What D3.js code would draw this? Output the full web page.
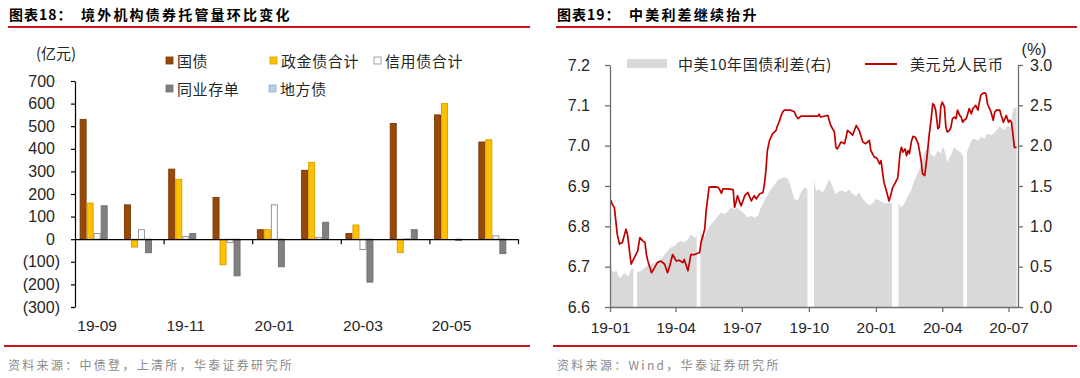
<!DOCTYPE html>
<html lang="zh">
<head>
<meta charset="UTF-8">
<title>图表18-19</title>
<script src="https://d3js.org/d3.v7.min.js"></script>
<style>
  body { margin: 0; background: #fff; }
  text { font-family: "Liberation Sans", Arial, "Noto Sans CJK SC", sans-serif; }
  .cjk { font-family: "Noto Sans CJK SC", sans-serif; }
</style>
</head>
<body>
<script>
// ---- 图表18 data (亿元) ----
var months = ["19-09", "19-10", "19-11", "19-12", "20-01", "20-02", "20-03", "20-04", "20-05", "20-06"];
var seriesNames = ["国债", "政金债合计", "信用债合计", "同业存单", "地方债"];
var govBond = [530, 152, 310, 185, 42, 305, 25, 512, 550, 430];
var policyBond = [160, -35, 265, -113, 42, 340, 63, -59, 600, 440];
var creditBond = [25, 42, 12, -15, 152, 8, -46, 2, 0, 15];
var ncd = [148, -60, 25, -162, -122, 75, -190, 42, -5, -64];
var localBond = [0, 0, 0, 0, 0, 0, 0, 0, 0, 0];
var leftTicks = [-300, -200, -100, 0, 100, 200, 300, 400, 500, 600, 700];

// ---- 图表19 data ----
var fxDates = ["2019-01-02", "2019-01-04", "2019-01-07", "2019-01-11", "2019-01-14", "2019-01-18", "2019-01-21", "2019-01-23", "2019-01-25", "2019-01-30",
  "2019-02-01", "2019-02-08", "2019-02-11", "2019-02-15", "2019-02-18", "2019-02-20", "2019-02-22", "2019-02-27", "2019-03-03", "2019-03-07",
  "2019-03-12", "2019-03-17", "2019-03-21", "2019-03-24", "2019-03-28", "2019-04-02", "2019-04-06", "2019-04-11", "2019-04-13", "2019-04-18",
  "2019-04-22", "2019-04-27", "2019-05-04", "2019-05-06", "2019-05-11", "2019-05-13", "2019-05-17", "2019-05-24", "2019-05-29", "2019-05-31",
  "2019-06-03", "2019-06-05", "2019-06-12", "2019-06-19", "2019-06-21", "2019-06-23", "2019-06-25", "2019-06-28", "2019-06-30", "2019-07-05",
  "2019-07-09", "2019-07-14", "2019-07-18", "2019-07-21", "2019-07-25", "2019-07-30", "2019-08-01", "2019-08-03", "2019-08-05", "2019-08-08",
  "2019-08-12", "2019-08-17", "2019-08-19", "2019-08-21", "2019-08-24", "2019-08-26", "2019-08-28", "2019-09-06", "2019-09-11", "2019-09-13",
  "2019-09-16", "2019-09-20", "2019-09-29", "2019-10-13", "2019-10-15", "2019-10-17", "2019-10-22", "2019-10-27", "2019-10-31", "2019-11-05",
  "2019-11-07", "2019-11-09", "2019-11-14", "2019-11-19", "2019-11-21", "2019-11-23", "2019-11-28", "2019-11-30", "2019-12-05", "2019-12-09",
  "2019-12-14", "2019-12-18", "2019-12-23", "2019-12-25", "2019-12-30", "2020-01-01", "2020-01-03", "2020-01-06", "2020-01-08", "2020-01-12",
  "2020-01-16", "2020-01-19", "2020-01-21", "2020-01-24", "2020-01-31", "2020-02-03", "2020-02-05", "2020-02-07", "2020-02-10", "2020-02-12",
  "2020-02-14", "2020-02-16", "2020-02-19", "2020-02-21", "2020-02-24", "2020-02-28", "2020-03-03", "2020-03-05", "2020-03-08", "2020-03-11",
  "2020-03-14", "2020-03-16", "2020-03-19", "2020-03-21", "2020-03-23", "2020-03-26", "2020-03-28", "2020-03-30", "2020-04-01", "2020-04-04",
  "2020-04-06", "2020-04-08", "2020-04-11", "2020-04-13", "2020-04-15", "2020-04-18", "2020-04-20", "2020-04-22", "2020-04-25", "2020-04-27",
  "2020-04-29", "2020-05-01", "2020-05-04", "2020-05-06", "2020-05-08", "2020-05-11", "2020-05-13", "2020-05-15", "2020-05-17", "2020-05-20",
  "2020-05-22", "2020-05-24", "2020-05-26", "2020-05-29", "2020-05-31", "2020-06-02", "2020-06-07", "2020-06-10", "2020-06-12", "2020-06-14",
  "2020-06-19", "2020-06-21", "2020-06-24", "2020-06-26", "2020-06-28", "2020-07-01", "2020-07-03", "2020-07-05", "2020-07-07", "2020-07-09",
  "2020-07-12"];
var usdCny = [6.865, 6.855, 6.847, 6.780, 6.756, 6.760, 6.780, 6.793, 6.780, 6.706,
  6.714, 6.739, 6.772, 6.764, 6.760, 6.730, 6.714, 6.685, 6.697, 6.710,
  6.714, 6.706, 6.685, 6.702, 6.730, 6.714, 6.716, 6.710, 6.718, 6.690,
  6.730, 6.730, 6.735, 6.760, 6.793, 6.839, 6.897, 6.898, 6.897, 6.893,
  6.882, 6.893, 6.893, 6.891, 6.847, 6.860, 6.876, 6.860, 6.851, 6.876,
  6.884, 6.863, 6.876, 6.868, 6.880, 6.884, 6.905, 6.938, 6.988, 7.013,
  7.029, 7.038, 7.050, 7.058, 7.075, 7.083, 7.088, 7.088, 7.084, 7.075,
  7.067, 7.073, 7.073, 7.073, 7.078, 7.071, 7.073, 7.075, 7.050, 7.034,
  6.996, 6.992, 7.009, 7.005, 7.021, 7.038, 7.030, 7.026, 7.050, 7.038,
  7.009, 7.005, 7.013, 6.988, 6.971, 6.971, 6.967, 6.955, 6.963, 6.909,
  6.884, 6.863, 6.875, 6.896, 6.920, 6.980, 6.996, 6.984, 6.992, 6.975,
  6.988, 6.980, 7.013, 7.023, 7.021, 7.005, 6.963, 6.930, 6.926, 6.971,
  7.025, 7.054, 7.104, 7.100, 7.088, 7.042, 7.046, 7.096, 7.108, 7.096,
  7.046, 7.034, 7.038, 7.046, 7.067, 7.071, 7.067, 7.088, 7.075, 7.071,
  7.058, 7.063, 7.067, 7.079, 7.092, 7.079, 7.092, 7.096, 7.100, 7.088,
  7.108, 7.125, 7.129, 7.131, 7.129, 7.104, 7.083, 7.063, 7.083, 7.088,
  7.088, 7.075, 7.058, 7.067, 7.075, 7.058, 7.063, 7.058, 7.030, 6.996,
  6.996];

// 中美10年国债利差 (%), null = 假期无数据
var spreadDates = ["2019-01-02", "2019-01-03", "2019-01-05", "2019-01-10", "2019-01-14", "2019-01-19", "2019-01-21", "2019-01-26", "2019-01-30", "2019-02-02",
  "2019-02-04", "2019-02-07", "2019-02-13", "2019-02-18", "2019-02-22", "2019-02-27", "2019-03-03", "2019-03-08", "2019-03-12", "2019-03-17",
  "2019-03-21", "2019-03-26", "2019-03-31", "2019-04-04", "2019-04-09", "2019-04-13", "2019-04-18", "2019-04-22", "2019-04-27", "2019-04-30",
  "2019-05-02", "2019-05-05", "2019-05-11", "2019-05-15", "2019-05-20", "2019-05-24", "2019-05-29", "2019-06-03", "2019-06-07", "2019-06-12",
  "2019-06-16", "2019-06-21", "2019-06-25", "2019-06-30", "2019-07-05", "2019-07-09", "2019-07-14", "2019-07-18", "2019-07-23", "2019-07-27",
  "2019-08-01", "2019-08-06", "2019-08-10", "2019-08-15", "2019-08-19", "2019-08-24", "2019-08-28", "2019-09-02", "2019-09-04", "2019-09-07",
  "2019-09-11", "2019-09-16", "2019-09-20", "2019-09-25", "2019-09-29", "2019-10-03", "2019-10-08", "2019-10-11", "2019-10-15", "2019-10-20",
  "2019-10-24", "2019-10-29", "2019-11-03", "2019-11-07", "2019-11-12", "2019-11-16", "2019-11-21", "2019-11-25", "2019-11-30", "2019-12-05",
  "2019-12-09", "2019-12-14", "2019-12-18", "2019-12-23", "2019-12-27", "2020-01-01", "2020-01-06", "2020-01-10", "2020-01-15", "2020-01-19",
  "2020-01-23", "2020-01-27", "2020-02-01", "2020-02-04", "2020-02-09", "2020-02-13", "2020-02-18", "2020-02-22", "2020-02-27", "2020-03-03",
  "2020-03-07", "2020-03-12", "2020-03-14", "2020-03-16", "2020-03-21", "2020-03-26", "2020-03-30", "2020-04-01", "2020-04-03", "2020-04-08",
  "2020-04-13", "2020-04-17", "2020-04-22", "2020-04-26", "2020-04-30", "2020-05-02", "2020-05-05", "2020-05-11", "2020-05-15", "2020-05-20",
  "2020-05-24", "2020-05-29", "2020-06-02", "2020-06-07", "2020-06-11", "2020-06-16", "2020-06-20", "2020-06-25", "2020-06-30", "2020-07-04",
  "2020-07-06", "2020-07-08", "2020-07-12"];
var spread = [0.59, 0.47, 0.43, 0.45, 0.36, 0.40, 0.42, 0.38, 0.47, 0.47,
  null, 0.43, 0.45, 0.49, 0.51, 0.53, 0.55, 0.57, 0.59, 0.65,
  0.70, 0.74, 0.76, 0.80, 0.82, 0.80, 0.84, 0.90, 0.86, 0.88,
  null, 0.92, 0.88, 0.96, 1.03, 1.07, 1.13, 1.17, 1.15, 1.19,
  1.23, 1.21, 1.23, 1.19, 1.15, 1.11, 1.13, 1.11, 1.13, 1.23,
  1.32, 1.40, 1.46, 1.52, 1.57, 1.59, 1.61, 1.59, 1.55, 1.46,
  1.34, 1.32, 1.42, 1.48, 1.46, null, 1.57, 1.44, 1.46, 1.42,
  1.48, 1.59, 1.48, 1.40, 1.44, 1.44, 1.42, 1.46, 1.40, 1.38,
  1.42, 1.34, 1.30, 1.26, 1.28, 1.34, 1.32, 1.30, 1.28, 1.30,
  1.28, null, 1.30, 1.23, 1.28, 1.36, 1.44, 1.55, 1.65, 1.77,
  1.90, 1.98, 2.00, 1.90, 1.86, 1.94, 1.90, 1.96, 1.98, 1.79,
  1.88, 1.98, 1.94, 1.92, 1.86, null, 1.92, 2.06, 2.09, 2.06,
  2.11, 2.09, 2.15, 2.13, 2.15, 2.21, 2.23, 2.19, 2.25, 2.23,
  2.40, 2.46, 2.48];
var rightTickDates = ["2019-01-01", "2019-04-01", "2019-07-01", "2019-10-01", "2020-01-01", "2020-04-01", "2020-07-01"];

var width = 1080, height = 378;
var svg = d3.select("body").append("svg")
  .attr("width", width)
  .attr("height", height)
  .style("background", "#fff");

var red = "#c8161d";

// ---------- headers / footers ----------
function header(x0, x1, prefix, title) {
  svg.append("text").attr("class", "cjk").attr("x", x0 + 1).attr("y", 20)
    .style("font-size", "14px").style("font-weight", "bold").style("letter-spacing", "1px")
    .text(prefix);
  svg.append("text").attr("class", "cjk").attr("x", x0 + 73).attr("y", 20)
    .style("font-size", "14px").style("font-weight", "bold").style("letter-spacing", "2.2px")
    .text(title);
  svg.append("line").attr("x1", x0).attr("x2", x1).attr("y1", 27).attr("y2", 27)
    .attr("stroke", red).attr("stroke-width", 2);
}
function footer(x0, x1, src) {
  svg.append("line").attr("x1", x0).attr("x2", x1).attr("y1", 346).attr("y2", 346)
    .attr("stroke", red).attr("stroke-width", 2);
  svg.append("text").attr("class", "cjk").attr("x", x0 + 4).attr("y", 370)
    .style("font-size", "12px").style("fill", "#8a8a8a").style("letter-spacing", "2.3px")
    .text(src);
}
header(8, 530, "图表18：", "境外机构债券托管量环比变化");
header(556, 1077, "图表19：", "中美利差继续抬升");
footer(4, 530, "资料来源：中债登，上清所，华泰证券研究所");
footer(553, 1077, "资料来源：Wind，华泰证券研究所");

// ---------- 图表18 ----------
var L = { left: 75, right: 518, top: 81, bottom: 307 };
var yB = d3.scaleLinear().domain([-300, 700]).range([L.bottom, L.top]);
var x0 = d3.scaleBand().domain(months).range([L.left, L.right]).padding(0);
var x1 = d3.scaleBand().domain(seriesNames).range([0, x0.bandwidth()]).paddingInner(0).paddingOuter(0.66);
var barData = [govBond, policyBond, creditBond, ncd, localBond];
var barFill = ["#984807", "#ffc000", "#ffffff", "#808080", "#b9cde5"];
var barStroke = ["#7a3905", "#d69e00", "#8c8c8c", "#6f6f6f", "#8eaadb"];

var g1 = svg.append("g");
seriesNames.forEach(function (name, si) {
  g1.selectAll("rect.s" + si)
    .data(barData[si])
    .enter()
    .append("rect")
    .attr("class", "s" + si)
    .attr("x", function (d, i) { return x0(months[i]) + x1(name) + 0.5; })
    .attr("y", function (d) { return Math.min(yB(d), yB(0)); })
    .attr("width", x1.bandwidth() - 1)
    .attr("height", function (d) { return Math.abs(yB(d) - yB(0)); })
    .attr("fill", barFill[si])
    .attr("stroke", barStroke[si])
    .attr("stroke-width", function (d) { return d === 0 ? 0 : 0.9; });
});

// y axis
var yAxisL = svg.append("g").attr("transform", "translate(" + L.left + ",0)")
  .call(d3.axisLeft(yB).tickValues(leftTicks).tickSize(4).tickSizeOuter(0).tickPadding(11)
    .tickFormat(function (d) { return d < 0 ? "(" + Math.abs(d) + ")" : d; }));
yAxisL.select(".domain").attr("stroke", "#000").attr("stroke-width", 1.2);
yAxisL.selectAll(".tick line").attr("stroke", "#000").attr("stroke-width", 1.2);
yAxisL.selectAll("text").style("font-size", "16px").style("fill", "#262626")
  .attr("dx", function (d) { return d < 0 ? 0 : -5; });

// category axis on zero line, tick every two months
var xIdx = d3.scaleLinear().domain([0, months.length]).range([L.left, L.right]);
var xAxisL = svg.append("g").attr("transform", "translate(0," + yB(0) + ")")
  .call(d3.axisBottom(xIdx).tickValues([2, 4, 6, 8, 10]).tickSize(5).tickSizeOuter(0).tickFormat(""));
xAxisL.select(".domain").attr("stroke", "#000").attr("stroke-width", 1.2);
xAxisL.selectAll(".tick line").attr("stroke", "#000").attr("stroke-width", 1.2);

svg.append("g").selectAll("text")
  .data(months.filter(function (m, i) { return i % 2 === 0; }))
  .enter()
  .append("text")
  .attr("x", function (d) { return x0(d) + x0.bandwidth() / 2; })
  .attr("y", 331)
  .attr("text-anchor", "middle")
  .style("font-size", "15.5px").style("fill", "#262626")
  .text(function (d) { return d; });

svg.append("text").attr("class", "cjk").attr("x", 36).attr("y", 59)
  .style("font-size", "15px").style("fill", "#262626").text("(亿元)");

// legend
var legendPos = [[166, 61], [270, 61], [374, 61], [166, 89], [269, 89]];
seriesNames.forEach(function (name, si) {
  var p = legendPos[si];
  svg.append("rect").attr("x", p[0]).attr("y", p[1] - 4).attr("width", 7).attr("height", 7)
    .attr("fill", barFill[si]).attr("stroke", barStroke[si]).attr("stroke-width", 0.8);
  svg.append("text").attr("class", "cjk").attr("x", p[0] + 11).attr("y", p[1] + 5.5)
    .style("font-size", "15px").style("fill", "#262626").style("letter-spacing", "0.6px")
    .text(name);
});

// ---------- 图表19 ----------
var R = { left: 610, right: 1018, top: 65, bottom: 307 };
var parse = d3.timeParse("%Y-%m-%d");
var xT = d3.scaleTime().domain([parse("2019-01-01"), parse("2020-07-14")]).range([R.left, R.right]);
var yFx = d3.scaleLinear().domain([6.6, 7.2]).range([R.bottom, R.top]);
var ySp = d3.scaleLinear().domain([0, 3]).range([R.bottom, R.top]);

var spreadData = spreadDates.map(function (d, i) { return { date: parse(d), v: spread[i] }; });
var fxData = fxDates.map(function (d, i) { return { date: parse(d), v: usdCny[i] }; });

svg.append("path")
  .datum(spreadData)
  .attr("fill", "#d9d9d9")
  .attr("d", d3.area()
    .defined(function (d) { return d.v !== null; })
    .x(function (d) { return xT(d.date); })
    .y0(ySp(0))
    .y1(function (d) { return ySp(d.v); }));

svg.append("path")
  .datum(fxData)
  .attr("fill", "none")
  .attr("stroke", "#c00000")
  .attr("stroke-width", 1.7)
  .attr("stroke-linejoin", "round")
  .attr("d", d3.line()
    .x(function (d) { return xT(d.date); })
    .y(function (d) { return yFx(d.v); }));

var axisGray = "#6e6e6e";
var yAxisR1 = svg.append("g").attr("transform", "translate(" + R.left + ",0)")
  .call(d3.axisLeft(yFx).ticks(6).tickSize(5).tickSizeOuter(0).tickPadding(15).tickFormat(d3.format(".1f")));
var yAxisR2 = svg.append("g").attr("transform", "translate(" + R.right + ",0)")
  .call(d3.axisRight(ySp).ticks(6).tickSize(5).tickSizeOuter(0).tickPadding(7).tickFormat(d3.format(".1f")));
var xAxisR = svg.append("g").attr("transform", "translate(0," + R.bottom + ")")
  .call(d3.axisBottom(xT).tickValues(rightTickDates.map(parse)).tickSize(5).tickSizeOuter(0)
    .tickPadding(10).tickFormat(d3.timeFormat("%y-%m")));
[yAxisR1, yAxisR2, xAxisR].forEach(function (a) {
  a.select(".domain").attr("stroke", axisGray).attr("stroke-width", 1.3);
  a.selectAll(".tick line").attr("stroke", axisGray).attr("stroke-width", 1.3);
  a.selectAll("text").style("font-size", "16px").style("fill", "#262626");
});
xAxisR.selectAll("text").style("font-size", "15.5px");

svg.append("text").attr("x", 1034).attr("y", 55).attr("text-anchor", "middle")
  .style("font-size", "16px").style("fill", "#262626").text("(%)");

// legend
svg.append("rect").attr("x", 627).attr("y", 59).attr("width", 40).attr("height", 9).attr("fill", "#d9d9d9");
svg.append("text").attr("class", "cjk").attr("x", 678).attr("y", 69.5)
  .style("font-size", "15px").style("fill", "#262626").style("letter-spacing", "0.6px")
  .text("中美10年国债利差(右)");
svg.append("line").attr("x1", 865).attr("x2", 897).attr("y1", 64).attr("y2", 64)
  .attr("stroke", "#c00000").attr("stroke-width", 2);
svg.append("text").attr("class", "cjk").attr("x", 910).attr("y", 69.5)
  .style("font-size", "15px").style("fill", "#262626").style("letter-spacing", "0.6px")
  .text("美元兑人民币");
</script>
</body>
</html>
